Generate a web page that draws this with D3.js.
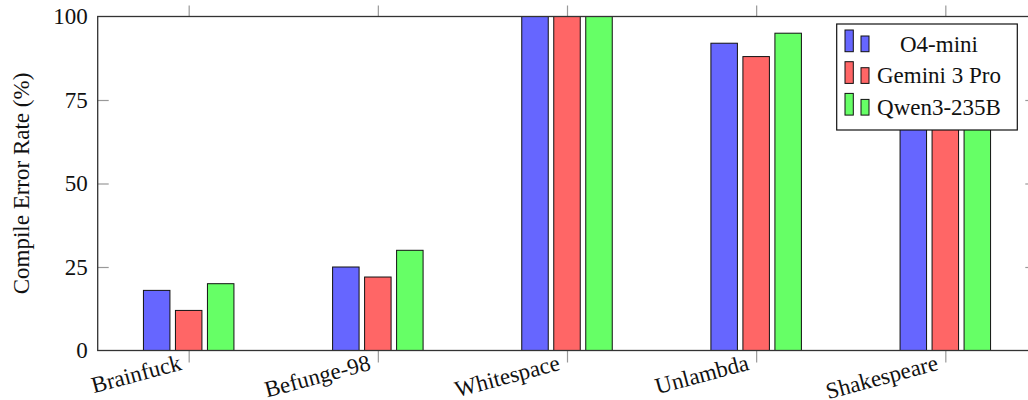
<!DOCTYPE html>
<html>
<head>
<meta charset="utf-8">
<script src="https://cdn.jsdelivr.net/npm/d3@7"></script>
<style>
  body { margin: 0; background: #fff; }
  svg { display: block; }
  svg text { font-family: "Liberation Serif", "Times New Roman", serif; }
</style>
</head>
<body>
<div id="chart"></div>
<script>
// data (Shakespeare tops are hidden behind the legend, estimated)
var categories = ["Brainfuck", "Befunge-98", "Whitespace", "Unlambda", "Shakespeare"];
var seriesNames = ["O4-mini", "Gemini 3 Pro", "Qwen3-235B"];
var o4mini = [18, 25, 100, 92, 90];
var gemini = [12, 22, 100, 88, 88];
var qwen = [20, 30, 100, 95, 93];
var yTicks = [0, 25, 50, 75, 100];
var colors = ["#6666ff", "#ff6666", "#66ff66"];

var seriesValues = [o4mini, gemini, qwen];

var width = 1028, height = 400;
// note: "top" is taken by window.top, so use plot* names
var plotLeft = 97.7, plotRight = 1036.3, plotTop = 16.5, plotBottom = 350.5;

var svg = d3.select("#chart").append("svg")
    .attr("width", width)
    .attr("height", height);

var x = d3.scaleLinear()
    .domain([-0.481, categories.length - 1 + 0.481])
    .range([plotLeft, plotRight]);

var xInner = d3.scaleBand()
    .domain(seriesNames)
    .range([-45.25, 45.25])
    .paddingInner(0.172);

var y = d3.scaleLinear()
    .domain([0, 100])
    .range([plotBottom, plotTop]);

// bars
seriesNames.forEach(function(name, j) {
    svg.append("g").selectAll("rect")
        .data(seriesValues[j])
        .enter().append("rect")
        .attr("x", function(d, i) { return x(i) + xInner(name); })
        .attr("y", function(d) { return y(d); })
        .attr("width", xInner.bandwidth())
        .attr("height", function(d) { return plotBottom - y(d); })
        .style("fill", colors[j])
        .style("stroke", "#111")
        .style("stroke-width", 1);
});

// axes
var tickColor = "#999";
var idx = d3.range(categories.length);

var gLeft = svg.append("g")
    .attr("transform", "translate(" + plotLeft + ",0)")
    .call(d3.axisLeft(y).tickValues(yTicks).tickSize(-11).tickSizeOuter(0).tickPadding(10));

var gRight = svg.append("g")
    .attr("transform", "translate(" + plotRight + ",0)")
    .call(d3.axisRight(y).tickValues(yTicks).tickSize(-11).tickSizeOuter(0).tickFormat(""));

var gTop = svg.append("g")
    .attr("transform", "translate(0," + plotTop + ")")
    .call(d3.axisTop(x).tickValues(idx).tickSize(11).tickSizeOuter(0).tickFormat(""));

var gBottom = svg.append("g")
    .attr("transform", "translate(0," + plotBottom + ")")
    .call(d3.axisBottom(x).tickValues(idx).tickSize(12).tickSizeOuter(0)
        .tickFormat(function(i) { return categories[i]; }));

[gLeft, gRight, gTop, gBottom].forEach(function(g) {
    g.attr("font-family", null);
    g.select(".domain").remove();
    g.selectAll(".tick line").attr("stroke", tickColor).attr("stroke-width", 1.2);
    g.selectAll("text")
        .style("font-family", "'Liberation Serif', serif")
        .style("font-size", "23px")
        .attr("fill", "#111");
});

// skip inner ticks at the frame edges
gLeft.selectAll(".tick").filter(function(d) { return d === 0 || d === 100; }).select("line").remove();
gRight.selectAll(".tick").filter(function(d) { return d === 0 || d === 100; }).select("line").remove();

gBottom.selectAll("text")
    .attr("x", null)
    .attr("y", null)
    .attr("dy", null)
    .attr("text-anchor", "end")
    .attr("transform", "translate(-6.5,19) rotate(-15)");

// frame
svg.append("rect")
    .attr("x", plotLeft)
    .attr("y", plotTop)
    .attr("width", plotRight - plotLeft)
    .attr("height", plotBottom - plotTop)
    .style("fill", "none")
    .style("stroke", "#333")
    .style("stroke-width", 1.3);

// y label
svg.append("text")
    .attr("transform", "translate(29," + ((plotTop + plotBottom) / 2) + ") rotate(-90)")
    .attr("text-anchor", "middle")
    .style("font-size", "23px")
    .attr("fill", "#111")
    .text("Compile Error Rate (%)");

// legend
var legend = svg.append("g").attr("transform", "translate(836.7,24)");
legend.append("rect")
    .attr("width", 180.6)
    .attr("height", 106)
    .style("fill", "#fff")
    .style("stroke", "#111")
    .style("stroke-width", 1.2);

var rows = legend.selectAll("g.row")
    .data(seriesNames)
    .enter().append("g")
    .attr("class", "row")
    .attr("transform", function(d, i) { return "translate(0," + (27.7 + i * 31.7) + ")"; });

rows.append("rect")
    .attr("x", 8.3).attr("y", -21.7)
    .attr("width", 8.3).attr("height", 21.7)
    .style("fill", function(d, i) { return colors[i]; })
    .style("stroke", "#111").style("stroke-width", 1);

rows.append("rect")
    .attr("x", 24.3).attr("y", -15.7)
    .attr("width", 8).attr("height", 15.7)
    .style("fill", function(d, i) { return colors[i]; })
    .style("stroke", "#111").style("stroke-width", 1);

rows.append("text")
    .attr("x", 102.3)
    .attr("y", 0)
    .attr("text-anchor", "middle")
    .style("font-size", "23px")
    .attr("fill", "#111")
    .text(function(d) { return d; });
</script>
</body>
</html>
